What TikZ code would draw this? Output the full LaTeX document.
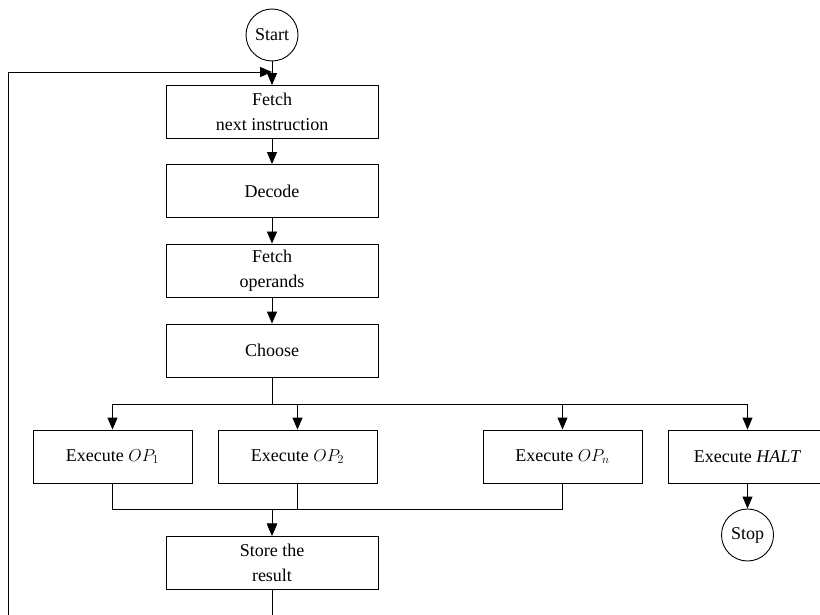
\documentclass[tikz,border=0pt]{standalone}
\usepackage{fontspec}
\setmainfont{Liberation Serif}
\usetikzlibrary{arrows.meta}
\begin{document}
\begin{tikzpicture}[x=1pt,y=-1pt,
  every node/.style={font=\fontsize{18}{25}\selectfont},
  box/.style={draw,line width=0.9pt,minimum width=212pt,minimum height=53pt,align=center,inner sep=0pt},
  exbox/.style={draw,line width=0.9pt,minimum width=159pt,minimum height=53pt,align=center,inner sep=0pt},
  term/.style={draw,circle,line width=0.9pt,minimum size=52pt,inner sep=0pt},
  conn/.style={line width=0.9pt},
  arr/.style={line width=0.9pt,-{Triangle[length=12pt,width=10pt]}}]
\useasboundingbox (0,0) rectangle (820,615);
\clip (0,0) rectangle (820,615);
\node[term] (start) at (272,35) {Start};
\node[box] (fetch) at (272,112) {Fetch\\next instruction};
\node[box] (decode) at (272,191) {Decode};
\node[box] (fops) at (272,270.5) {Fetch\\operands};
\node[box] (choose) at (272,350.5) {Choose};
\node[exbox] (op1) at (112.5,456.5) {Execute $OP_1$};
\node[exbox] (op2) at (297.5,456.5) {Execute $OP_2$};
\node[exbox] (opn) at (562.5,456.5) {Execute $OP_n$};
\node[exbox] (halt) at (747.5,456.5) {Execute \textit{HALT}};
\node[term] (stop) at (747.5,535) {Stop};
\node[box] (store) at (272,562.5) {Store the\\result};
\coordinate (j) at (272,72);
\coordinate (lt) at (8,72);
\coordinate (lb) at (8,650);
\draw[arr] (start) -- (fetch);
\draw[arr] (fetch) -- (decode);
\draw[arr] (decode) -- (fops);
\draw[arr] (fops) -- (choose);
\draw[arr] (choose.south) -- ++(0,27) -| (op1.north);
\draw[arr] (choose.south) -- ++(0,27) -| (op2.north);
\draw[arr] (choose.south) -- ++(0,27) -| (opn.north);
\draw[arr] (choose.south) -- ++(0,27) -| (halt.north);
\draw[arr] (op1.south) -- ++(0,26) -| (store.north);
\draw[arr] (op2.south) -- ++(0,26) -| (store.north);
\draw[arr] (opn.south) -- ++(0,26) -| (store.north);
\draw[arr] (halt) -- (stop);
\draw[arr] (store.south) |- (lb) -- (lt) -- (j);
\end{tikzpicture}
\end{document}
